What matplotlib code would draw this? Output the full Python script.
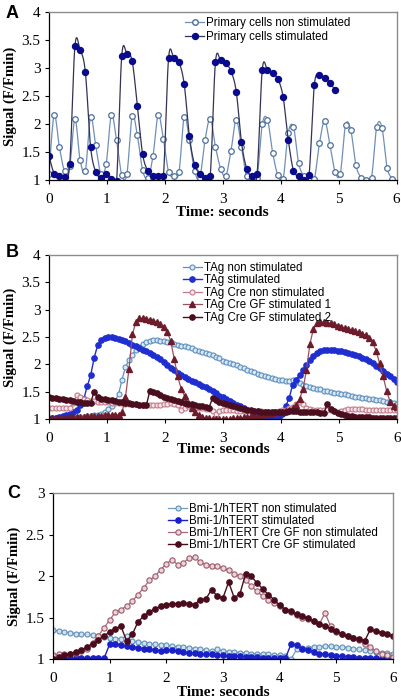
import numpy as np
import matplotlib
matplotlib.use('Agg')
import matplotlib.pyplot as plt
from matplotlib.lines import Line2D
from matplotlib.ticker import FuncFormatter

# ---- panel A: primary cells (sampled every ~0.09 s)
dt_a = 0.0898
primary_non_stim = [1.11, 2.16, 1.60, 1.17, 1.25, 2.09, 1.36, 1.17, 2.12, 1.62,
                    1.11, 1.29, 2.16, 1.71, 1.09, 1.12, 2.14, 1.80, 1.18, 1.04,
                    1.43, 2.16, 1.73, 1.15, 1.07, 1.15, 2.13, 1.72, 1.16, 1.05,
                    1.71, 2.10, 1.60, 1.21, 1.08, 1.53, 2.08, 1.59, 1.07, 1.04,
                    1.05, 2.00, 2.08, 1.49, 1.09, 1.02, 1.85, 1.95, 1.30, 1.08,
                    1.01, 1.02, 1.66, 2.06, 1.63, 1.15, 1.12, 1.98, 1.90, 1.27,
                    1.05, 1.00, 1.05, 1.95, 1.94, 1.22, 1.03]
primary_stim = [1.44, 1.12, 1.08, 1.06, 1.29, 3.39, 3.32, 2.93, 1.60, 1.15,
                1.05, 1.11, 1.03, 0.99, 3.22, 3.25, 3.12, 2.33, 1.47, 1.17,
                1.07, 1.07, 1.07, 3.18, 3.18, 3.10, 2.71, 1.78, 1.28, 1.12,
                1.04, 1.08, 3.10, 3.14, 3.08, 2.94, 2.58, 1.68, 1.21, 1.08,
                1.11, 2.97, 2.97, 2.91, 2.80, 2.49, 1.72, 1.17, 1.08, 1.01,
                1.10, 2.69, 2.87, 2.82, 2.74, 2.60]

# ---- panel B: TAg cells (sampled every 0.06 s)
dt_b = 0.06
tag_non_stim = [1.00, 1.00, 1.01, 1.01, 1.02, 1.02, 1.02, 1.03, 1.03, 1.03,
                1.04, 1.05, 1.06, 1.07, 1.08, 1.10, 1.13, 1.18, 1.24, 1.33,
                1.45, 1.72, 1.95, 2.08, 2.18, 2.26, 2.32, 2.37, 2.41, 2.43,
                2.44, 2.44, 2.43, 2.42, 2.41, 2.40, 2.38, 2.36, 2.34, 2.33,
                2.31, 2.29, 2.27, 2.25, 2.23, 2.21, 2.19, 2.17, 2.14, 2.12,
                2.07, 2.05, 2.02, 2.00, 1.98, 1.95, 1.93, 1.90, 1.88, 1.86,
                1.83, 1.81, 1.79, 1.77, 1.75, 1.73, 1.72, 1.71, 1.69, 1.70,
                1.71, 1.68, 1.65, 1.63, 1.61, 1.59, 1.57, 1.55, 1.54, 1.52,
                1.51, 1.50, 1.48, 1.47, 1.46, 1.45, 1.44, 1.42, 1.41, 1.40,
                1.39, 1.38, 1.37, 1.36, 1.35, 1.34, 1.33, 1.32, 1.31, 1.30,
                1.28]
tag_stim = [1.00, 1.01, 1.02, 1.03, 1.05, 1.07, 1.09, 1.12, 1.17, 1.26,
            1.36, 1.60, 1.80, 2.12, 2.35, 2.45, 2.48, 2.50, 2.50, 2.49,
            2.47, 2.45, 2.42, 2.39, 2.36, 2.33, 2.30, 2.27, 2.24, 2.21,
            2.17, 2.13, 2.09, 2.04, 1.99, 1.94, 1.89, 1.85, 1.80, 1.76,
            1.73, 1.70, 1.67, 1.64, 1.61, 1.58, 1.55, 1.51, 1.47, 1.43,
            1.40, 1.36, 1.33, 1.29, 1.26, 1.23, 1.20, 1.17, 1.14, 1.11,
            1.09, 1.07, 1.05, 1.03, 1.01, 1.00, 1.04, 1.10, 1.23, 1.38,
            1.62, 1.72, 1.80, 1.90, 1.98, 2.08, 2.15, 2.20, 2.24, 2.26,
            2.26, 2.26, 2.26, 2.25, 2.25, 2.23, 2.21, 2.19, 2.17, 2.16,
            2.12, 2.09, 2.06, 2.02, 1.97, 1.93, 1.88, 1.82, 1.78, 1.73,
            1.68]
tag_cre_non_stim = [1.21, 1.21, 1.21, 1.21, 1.21, 1.21, 1.21, 1.30, 1.44, 1.40,
                    1.36, 1.34, 1.33, 1.33, 1.32, 1.32, 1.31, 1.31, 1.30, 1.30,
                    1.29, 1.29, 1.28, 1.28, 1.27, 1.27, 1.26, 1.26, 1.26, 1.25,
                    1.25, 1.25, 1.26, 1.27, 1.28, 1.29, 1.28, 1.25, 1.17, 1.21,
                    1.23, 1.22, 1.21, 1.20, 1.20, 1.19, 1.19, 1.14, 1.10, 1.15,
                    1.17, 1.17, 1.16, 1.16, 1.15, 1.15, 1.15, 1.14, 1.14, 1.14,
                    1.14, 1.14, 1.13, 1.13, 1.13, 1.13, 1.14, 1.16, 1.17, 1.20,
                    1.22, 1.28, 1.32, 1.27, 1.20, 1.18, 1.17, 1.17, 1.16, 1.16,
                    1.16, 1.16, 1.14, 1.12, 1.15, 1.17, 1.18, 1.18, 1.18, 1.18,
                    1.18, 1.17, 1.17, 1.17, 1.17, 1.16, 1.16, 1.16, 1.16, 1.16,
                    1.16]
tag_cre_gf_stim1 = [1.02, 1.02, 1.02, 1.02, 1.02, 1.02, 1.03, 1.03, 1.03, 1.04,
                    1.04, 1.05, 1.05, 1.06, 1.06, 1.06, 1.07, 1.07, 1.07, 1.07,
                    1.08, 1.12, 1.40, 1.92, 2.55, 2.78, 2.84, 2.84, 2.83, 2.82,
                    2.80, 2.77, 2.73, 2.68, 2.60, 2.42, 2.10, 1.78, 1.55, 1.42,
                    1.30, 1.20, 1.13, 1.08, 1.04, 1.02, 1.01, 1.00, 1.00, 1.00,
                    1.00, 1.00, 1.00, 1.01, 1.01, 1.02, 1.03, 1.04, 1.05, 1.06,
                    1.07, 1.08, 1.09, 1.10, 1.11, 1.12, 1.12, 1.13, 1.14, 1.16,
                    1.20, 1.26, 1.36, 1.55, 1.90, 2.38, 2.65, 2.75, 2.77, 2.77,
                    2.76, 2.75, 2.73, 2.71, 2.69, 2.67, 2.65, 2.63, 2.61, 2.59,
                    2.56, 2.53, 2.48, 2.40, 2.25, 2.02, 1.78, 1.52, 1.32, 1.24,
                    1.22]
tag_cre_gf_stim2 = [1.40, 1.39, 1.38, 1.37, 1.36, 1.35, 1.34, 1.33, 1.32, 1.31,
                    1.30, 1.29, 1.30, 1.50, 1.40, 1.37, 1.36, 1.35, 1.34, 1.33,
                    1.32, 1.31, 1.30, 1.29, 1.28, 1.27, 1.26, 1.26, 1.25, 1.52,
                    1.50, 1.47, 1.44, 1.41, 1.39, 1.37, 1.35, 1.33, 1.31, 1.30,
                    1.28, 1.27, 1.25, 1.24, 1.23, 1.22, 1.21, 1.38, 1.35, 1.32,
                    1.30, 1.28, 1.26, 1.24, 1.22, 1.20, 1.18, 1.17, 1.16, 1.15,
                    1.14, 1.13, 1.13, 1.12, 1.12, 1.12, 1.12, 1.13, 1.13, 1.14,
                    1.14, 1.14, 1.13, 1.13, 1.13, 1.12, 1.12, 1.12, 1.11, 1.11,
                    1.28, 1.18, 1.14, 1.11, 1.09, 1.07, 1.06, 1.05, 1.04, 1.04,
                    1.03, 1.03, 1.03, 1.02, 1.02, 1.02, 1.02, 1.02, 1.02, 1.02,
                    1.02]

# ---- panel C: Bmi-1/hTERT cells (sampled every 0.1 s)
dt_c = 0.1
bmi_non_stim = [1.35, 1.34, 1.33, 1.32, 1.31, 1.30, 1.30, 1.29, 1.28, 1.27,
                1.26, 1.25, 1.25, 1.28, 1.22, 1.21, 1.20, 1.19, 1.18, 1.17,
                1.17, 1.16, 1.15, 1.15, 1.14, 1.13, 1.12, 1.11, 1.10, 1.12,
                1.10, 1.09, 1.09, 1.08, 1.08, 1.07, 1.07, 1.06, 1.06, 1.05,
                1.05, 1.04, 1.00, 1.12, 1.14, 1.14, 1.15, 1.15, 1.16, 1.16,
                1.15, 1.15, 1.14, 1.13, 1.12, 1.11, 1.10, 1.09, 1.08, 1.08,
                1.07]
bmi_stim = [1.00, 1.00, 1.01, 1.01, 1.01, 1.01, 1.02, 1.01, 1.01, 1.01,
            1.18, 1.19, 1.17, 1.16, 1.15, 1.14, 1.13, 1.12, 1.11, 1.10,
            1.11, 1.11, 1.10, 1.09, 1.08, 1.08, 1.07, 1.06, 1.06, 1.05,
            1.05, 1.04, 1.04, 1.04, 1.03, 1.03, 1.03, 1.02, 1.02, 1.02,
            1.01, 1.01, 1.18, 1.17, 1.13, 1.11, 1.09, 1.07, 1.06, 1.05,
            1.04, 1.04, 1.03, 1.03, 1.02, 1.02, 1.02, 1.02, 1.01, 1.01,
            1.01]
bmi_cre_non_stim = [1.05, 1.06, 1.06, 1.07, 1.08, 1.10, 1.13, 1.20, 1.28, 1.38,
                    1.47, 1.57, 1.60, 1.64, 1.70, 1.78, 1.86, 1.95, 2.00, 2.08,
                    2.15, 2.20, 2.14, 2.16, 2.22, 2.23, 2.17, 2.14, 2.13, 2.12,
                    2.10, 2.07, 2.03, 2.00, 1.96, 1.88, 1.82, 1.76, 1.72, 1.68,
                    1.64, 1.60, 1.57, 1.53, 1.50, 1.49, 1.46, 1.42, 1.56, 1.40,
                    1.33, 1.30, 1.28, 1.26, 1.23, 1.18, 1.15, 1.10, 1.07, 1.05,
                    1.03]
bmi_cre_stim = [1.00, 1.03, 1.05, 1.07, 1.09, 1.11, 1.15, 1.19, 1.23, 1.28,
                1.33, 1.37, 1.40, 1.22, 1.30, 1.45, 1.52, 1.57, 1.61, 1.64,
                1.66, 1.67, 1.67, 1.68, 1.67, 1.66, 1.72, 1.73, 1.84, 1.76,
                1.74, 1.93, 1.74, 1.79, 2.03, 2.00, 1.92, 1.85, 1.78, 1.72,
                1.65, 1.60, 1.58, 1.55, 1.52, 1.50, 1.46, 1.43, 1.40, 1.37,
                1.34, 1.31, 1.28, 1.26, 1.24, 1.22, 1.36, 1.34, 1.32, 1.30,
                1.28]

legend_a = ['Primary cells non stimulated', 'Primary cells stimulated']
legend_b = ['TAg non stimulated', 'TAg stimulated', 'TAg Cre non stimulated',
            'TAg Cre GF stimulated 1', 'TAg Cre GF stimulated 2']
legend_c = ['Bmi-1/hTERT non stimulated', 'Bmi-1/hTERT stimulated',
            'Bmi-1/hTERT Cre GF non stimulated', 'Bmi-1/hTERT Cre GF stimulated']

SERIF = 'Liberation Serif'
SANS = 'Liberation Sans'


def smooth_line(x, y, n=10):
    # catmull-rom, roughly what excel does with "smoothed line"
    x = np.asarray(x, float)
    y = np.asarray(y, float)
    px = np.concatenate([[x[0]], x, [x[-1]]])
    py = np.concatenate([[y[0]], y, [y[-1]]])
    xs, ys = [], []
    s = np.linspace(0, 1, n, endpoint=False)
    for i in range(1, len(px) - 2):
        for p, out in ((px, xs), (py, ys)):
            p0, p1, p2, p3 = p[i - 1], p[i], p[i + 1], p[i + 2]
            out.extend(0.5 * (2 * p1 + (-p0 + p2) * s + (2 * p0 - 5 * p1 + 4 * p2 - p3) * s ** 2
                              + (-p0 + 3 * p1 - 3 * p2 + p3) * s ** 3))
    xs.append(x[-1])
    ys.append(y[-1])
    return xs, ys


def style_axes(ax, ymin, ymax, ystep, xlabelpad):
    ax.set_xlim(0, 6)
    ax.set_ylim(ymin, ymax)
    ax.set_xticks(range(0, 7))
    ax.set_yticks(np.arange(ymin, ymax + 0.001, ystep))
    ax.yaxis.set_major_formatter(FuncFormatter(lambda v, p: '%g' % v))
    for lab in ax.get_xticklabels() + ax.get_yticklabels():
        lab.set_fontfamily(SERIF)
        lab.set_fontsize(11)
    ax.tick_params(length=3, width=0.8)
    ax.tick_params(axis='x', pad=6)
    ax.tick_params(axis='y', pad=3)
    for side in ['top', 'right']:
        ax.spines[side].set_color('#8c8c8c')
        ax.spines[side].set_linewidth(1.0)
    for side in ['left', 'bottom']:
        ax.spines[side].set_color('black')
        ax.spines[side].set_linewidth(0.9)
    ax.set_xlabel('Time: seconds', fontfamily=SERIF, fontweight='bold', fontsize=11, labelpad=xlabelpad)
    ax.set_ylabel('Signal (F/Fmin)', fontfamily=SERIF, fontweight='bold', fontsize=10.5, labelpad=3)


def add_legend(ax, handles, labels, anchor, fsize, spacing):
    ax.legend(handles, labels, loc='upper left', bbox_to_anchor=anchor, frameon=False,
              prop={'family': SANS, 'size': fsize}, handlelength=1.7, handletextpad=0.15,
              labelspacing=spacing, borderaxespad=0, borderpad=0)


fig = plt.figure(figsize=(4.01, 7.0), dpi=100)

# ------------- A
ax_a = fig.add_axes([0.122, 0.7424, 0.867, 0.2408])
t_non = np.arange(len(primary_non_stim)) * dt_a
t_stim = np.arange(len(primary_stim)) * dt_a
c_non_line, c_non_mark = '#6f8fb8', '#4d6f9c'
c_stim_line, c_stim_mark = '#333355', '#0a0a8c'
sx, sy = smooth_line(t_non, primary_non_stim)
ax_a.plot(sx, sy, color=c_non_line, lw=0.9)
ax_a.plot(t_non, primary_non_stim, ls='none', marker='o', ms=4, mfc='white', mec=c_non_mark, mew=0.9)
sx, sy = smooth_line(t_stim, primary_stim)
ax_a.plot(sx, sy, color=c_stim_line, lw=0.9)
ax_a.plot(t_stim, primary_stim, ls='none', marker='o', ms=4.3, mfc=c_stim_mark, mec=c_stim_mark)
style_axes(ax_a, 1, 4, 0.5, 0)
h_a = [Line2D([], [], color=c_non_line, lw=0.9, marker='o', ms=4, mfc='white', mec=c_non_mark),
       Line2D([], [], color=c_stim_line, lw=0.9, marker='o', ms=4.3, mfc=c_stim_mark, mec=c_stim_mark)]
add_legend(ax_a, h_a, legend_a, (0.391, 0.968), 8.3, 0.17)

# ------------- B
ax_b = fig.add_axes([0.122, 0.4014, 0.868, 0.2343])
t_b = np.arange(len(tag_non_stim)) * dt_b
b_styles = [
    dict(color='#5d8fc0', marker='o', ms=3.6, mfc='#dbe8f4', mec='#5d8fc0', mew=0.8, lw=0.9),
    dict(color='#1f2ed0', marker='o', ms=3.8, mfc='#1f2ed0', mec='#1f2ed0', lw=1.0),
    dict(color='#c27a8a', marker='o', ms=3.6, mfc='#f6e6ea', mec='#c27a8a', mew=0.8, lw=0.9),
    dict(color='#9a5060', marker='^', ms=4, mfc='#6e1c2c', mec='#6e1c2c', lw=0.9),
    dict(color='#4a0e1e', marker='o', ms=3.8, mfc='#4a0e1e', mec='#4a0e1e', lw=1.0),
]
b_series = [tag_non_stim, tag_stim, tag_cre_non_stim, tag_cre_gf_stim1, tag_cre_gf_stim2]
h_b = []
for vals, st in zip(b_series, b_styles):
    h_b.append(ax_b.plot(t_b, vals, **st)[0])
style_axes(ax_b, 1, 4, 0.5, -1)
add_legend(ax_b, h_b, legend_b, (0.384, 0.959), 8.3, 0.05)

# ------------- C
ax_c = fig.add_axes([0.132, 0.0581, 0.848, 0.2372])
t_c = np.arange(len(bmi_non_stim)) * dt_c
c_styles = [
    dict(color='#6a9cc4', marker='o', ms=3.6, mfc='#d0e2f0', mec='#5f8fb8', mew=0.8, lw=0.9),
    dict(color='#1a20c8', marker='o', ms=3.8, mfc='#1a20c8', mec='#1a20c8', lw=1.0),
    dict(color='#a86878', marker='o', ms=3.8, mfc='#ecd4da', mec='#9a5a6a', mew=0.8, lw=0.9),
    dict(color='#4a0c1c', marker='o', ms=3.8, mfc='#4a0c1c', mec='#4a0c1c', lw=1.0),
]
c_series = [bmi_non_stim, bmi_stim, bmi_cre_non_stim, bmi_cre_stim]
h_c = []
for vals, st in zip(c_series, c_styles):
    h_c.append(ax_c.plot(t_c, vals, **st)[0])
style_axes(ax_c, 1, 3, 0.5, 1)
add_legend(ax_c, h_c, legend_c, (0.338, 0.943), 8.3, 0.02)

for letter, (x, y) in zip('ABC', [(0.015, 0.993), (0.015, 0.652), (0.018, 0.307)]):
    fig.text(x, y, letter, fontfamily=SANS, fontweight='bold', fontsize=13, va='top', ha='left')

fig.savefig('out.png', dpi=100)
